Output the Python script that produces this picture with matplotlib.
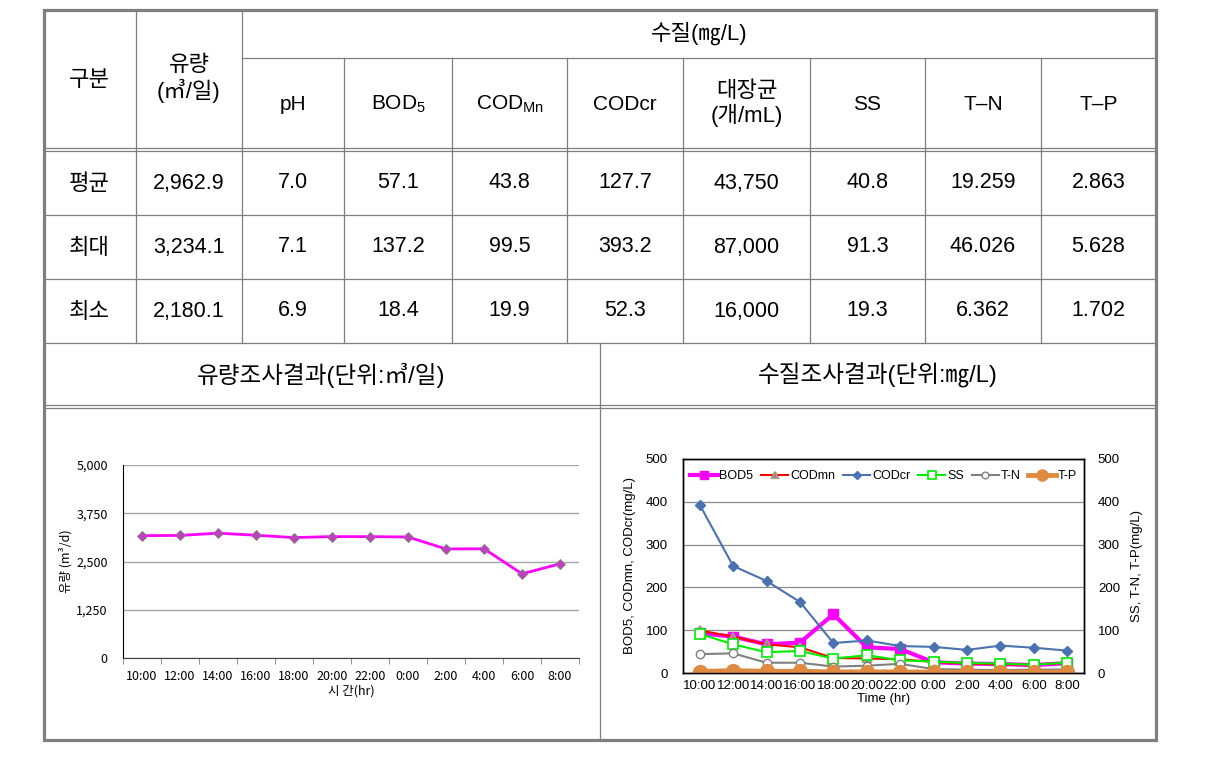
import matplotlib
matplotlib.use('Agg')
import matplotlib.pyplot as plt
import numpy as np
from matplotlib import font_manager
from matplotlib.patches import Rectangle

## time axis shared by both charts
times = ['10:00', '12:00', '14:00', '16:00', '18:00', '20:00',
         '22:00', '0:00', '2:00', '4:00', '6:00', '8:00']

## flow (m3/day)
flow = [3170, 3175, 3234, 3180, 3120, 3145, 3145, 3135, 2825, 2830, 2180, 2440]
flow_ticks = [0, 1250, 2500, 3750, 5000]
flow_ticklabels = ['0', '1,250', '2,500', '3,750', '5,000']

## water quality (mg/L)
bod5 = [93, 85, 67, 71, 137.2, 60, 56, 25, 22, 21, 18.4, 23]
codmn = [99.5, 85, 67, 60, 35, 34, 32, 26, 22, 20, 19.9, 24]
codcr = [393.2, 250, 215, 166, 70, 76, 63, 61, 54, 64, 59, 52.3]
ss = [91.3, 67, 48.5, 51.5, 33.7, 41.5, 29.7, 26.7, 23.4, 22, 19.3, 24.3]
tn = [44, 46.0, 24, 24, 15, 17, 21.5, 9, 8, 6.4, 8, 8]
tp = [3.5, 5.6, 4, 4, 2.5, 2.5, 2.5, 2, 1.8, 1.7, 2, 2]

## summary table
row_names = ['평균', '최대', '최소']
col_heads = ['pH', r'BOD$_{\mathregular{5}}$', r'COD$_{\mathregular{Mn}}$', 'CODcr',
             '대장균\n(개/mL)', 'SS', 'T\u2013N', 'T\u2013P']
table_vals = [
    ['2,962.9', '7.0', '57.1', '43.8', '127.7', '43,750', '40.8', '19.259', '2.863'],
    ['3,234.1', '7.1', '137.2', '99.5', '393.2', '87,000', '91.3', '46.026', '5.628'],
    ['2,180.1', '6.9', '18.4', '19.9', '52.3', '16,000', '19.3', '6.362', '1.702'],
]

W, H = 1226, 759
names = {f.name for f in font_manager.fontManager.ttflist}
narrow = 'Liberation Sans Narrow' if 'Liberation Sans Narrow' in names else 'Liberation Sans'
tfont = [narrow, 'Noto Sans CJK KR', 'DejaVu Sans']
kfont = ['Noto Sans CJK KR', 'DejaVu Sans']
plt.rcParams['font.family'] = ['Liberation Sans', 'Noto Sans CJK KR', 'DejaVu Sans']

fig = plt.figure(figsize=(W / 100, H / 100), dpi=100)

## table drawn in pixel coordinates
tab = fig.add_axes([0, 0, 1, 1])
tab.set_xlim(0, W)
tab.set_ylim(H, 0)
tab.axis('off')

lc = '#7f7f7f'
def hline(y, x0=44, x1=1156):
    tab.plot([x0, x1], [y, y], color=lc, lw=0.9)
def vline(x, y0, y1):
    tab.plot([x, x], [y0, y1], color=lc, lw=0.9)

col_x = [44, 136, 242, 344, 452, 567, 683, 810, 925, 1041, 1156]
for cx in col_x[1:3]:
    vline(cx, 10, 343)
for cx in col_x[3:-1]:
    vline(cx, 58, 343)
hline(58, 242)
hline(148); hline(151)
hline(215); hline(279); hline(343)
vline(600, 343, 740)
hline(405); hline(408)
tab.add_patch(Rectangle((44, 10), 1112, 730, fill=False, ec=lc, lw=2.3))

tab.text(89, 79, '구분', ha='center', va='center', fontsize=16, family=kfont)
tab.text(189, 79, '유량\n(㎥/일)', ha='center', va='center', fontsize=16,
         family=tfont, linespacing=1.1)
tab.text(699, 33, '수질(㎎/L)', ha='center', va='center', fontsize=16, family=tfont)
for i, h in enumerate(col_heads):
    cx = (col_x[i + 2] + col_x[i + 3]) / 2
    fs = 16 if '대' in h else 15
    tab.text(cx, 104, h, ha='center', va='center', fontsize=fs, family=tfont,
             linespacing=1.1)
row_y = [183, 247, 311]
for r, name in enumerate(row_names):
    tab.text(89, row_y[r], name, ha='center', va='center', fontsize=16, family=kfont)
    for c, v in enumerate(table_vals[r]):
        cx = (col_x[c + 1] + col_x[c + 2]) / 2
        tab.text(cx, row_y[r], v, ha='center', va='center', fontsize=15.5, family=tfont)

tab.text(321, 375, '유량조사결과(단위:㎥/일)', ha='center', va='center', fontsize=17, family=tfont)
tab.text(878, 375, '수질조사결과(단위:㎎/L)', ha='center', va='center', fontsize=17, family=tfont)

x = np.arange(len(times))

## flow chart
ax1 = fig.add_axes([123 / W, 1 - 658 / H, 456 / W, 193 / H])
ax1.plot(x, flow, color='#ff00ff', lw=2, marker='D', ms=5,
         mfc='#c040c0', mec='#808080', mew=0.6)
ax1.set_xlim(-0.5, len(times) - 0.5)
ax1.set_ylim(0, 5000)
ax1.set_yticks(flow_ticks)
ax1.set_yticklabels(flow_ticklabels)
ax1.yaxis.grid(True, color='#a6a6a6', lw=1)
ax1.set_axisbelow(True)
for s in ['top', 'right']:
    ax1.spines[s].set_visible(False)
ax1.spines['left'].set_color('black')
ax1.spines['bottom'].set_color('#404040')
ax1.set_xticks(x)
ax1.set_xticklabels(times)
ax1.set_xticks(np.arange(-0.5, len(times), 1), minor=True)
ax1.tick_params(axis='y', length=0, labelsize=9, pad=11)
ax1.tick_params(axis='x', which='major', length=0, labelsize=9, pad=9)
ax1.tick_params(axis='x', which='minor', length=4, color='#808080')
for lab in ax1.get_xticklabels() + ax1.get_yticklabels():
    lab.set_family(kfont)
ax1.set_ylabel('유량 (m³/d)', fontsize=9, family=kfont, labelpad=3)
ax1.set_xlabel('시 간(hr)', fontsize=9, family=kfont, labelpad=1)

## water quality chart
ax2 = fig.add_axes([683 / W, 1 - 673 / H, 401 / W, 214 / H])
ax3 = ax2.twinx()
h_bod, = ax2.plot(x, bod5, color='#ff00ff', lw=3, marker='s', ms=7, label='BOD5')
h_mn, = ax2.plot(x, codmn, color='#ff0000', lw=1.5, marker='^', ms=6,
                 mfc='#e040e0', mec='#a09c7c', mew=1.5, label='CODmn')
h_cr, = ax2.plot(x, codcr, color='#4a72b0', lw=1.5, marker='D', ms=5, label='CODcr')
h_ss, = ax3.plot(x, ss, color='#00ee00', lw=1.5, marker='s', ms=7,
                 mfc='white', mec='#00ee00', mew=1.2, label='SS')
h_tn, = ax3.plot(x, tn, color='#808080', lw=1.5, marker='o', ms=6,
                 mfc='white', mec='#808080', mew=1, label='T-N')
h_tp, = ax3.plot(x, tp, color='#e08a40', lw=3.5, marker='o', ms=10,
                 mfc='#e08a40', mec='#e08a40', label='T-P')

for a in (ax2, ax3):
    a.set_xlim(-0.5, len(times) - 0.5)
    a.set_ylim(0, 500)
    a.set_yticks([0, 100, 200, 300, 400, 500])
    for s in a.spines.values():
        s.set_color('black')
        s.set_linewidth(1)
ax2.yaxis.grid(True, color='#8c8c8c', lw=0.9)
ax2.set_axisbelow(True)
ax2.set_xticks(x)
ax2.set_xticklabels(times)
ax2.set_xticks(np.arange(-0.5, len(times), 1), minor=True)
ax2.tick_params(axis='x', which='major', length=0, labelsize=9.5, pad=5)
ax2.tick_params(axis='x', which='minor', length=3, direction='in')
ax2.tick_params(axis='y', length=0, labelsize=9.5, pad=11)
ax3.tick_params(axis='y', length=0, labelsize=9.5, pad=10)
ax2.set_ylabel('BOD5, CODmn, CODcr(mg/L)', fontsize=9.5, labelpad=7)
ax3.set_ylabel('SS, T-N, T-P(mg/L)', fontsize=9.5, labelpad=8)
ax2.set_xlabel('Time (hr)', fontsize=9.5, labelpad=1)

ax3.legend(handles=[h_bod, h_mn, h_cr, h_ss, h_tn, h_tp], loc='upper center',
           ncol=6, frameon=False, fontsize=9, handlelength=2.2,
           handletextpad=0.15, columnspacing=0.6, borderaxespad=0.5,
           numpoints=1, markerscale=0.8)

fig.savefig('out.png', dpi=100)
